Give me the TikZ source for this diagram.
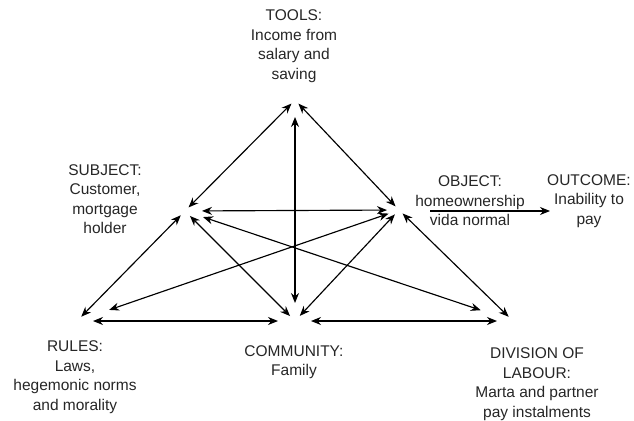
\documentclass[tikz,border=0pt]{standalone}
\usepackage{fontspec}
\setmainfont{Liberation Sans}
\usetikzlibrary{arrows.meta}
\begin{document}
\begin{tikzpicture}[x=1pt,y=-1pt,
  lbl/.style={align=center, font=\fontsize{15.5}{19.5}\selectfont, text=black!85, inner sep=0pt},
  link/.style={line width=1.15pt, {Stealth[length=10pt,width=8pt]}-{Stealth[length=10pt,width=8pt]}},
  single/.style={line width=1.15pt, -{Stealth[length=10pt,width=8pt]}}]
\useasboundingbox (0,0) rectangle (634,420);

% corners of the activity system
\coordinate (T) at (295,100);
\coordinate (S) at (185,211);
\coordinate (O) at (399,210);
\coordinate (R) at (77,321);
\coordinate (C) at (295,321);
\coordinate (D) at (513,321);
\coordinate (objout) at (430,211);
\coordinate (outin) at (550,211);

% labels
\node[lbl] (tools) at (294,46) {TOOLS:\\Income from\\salary and\\saving};
\node[lbl] (subject) at (105,199) {SUBJECT:\\Customer,\\mortgage\\holder};
\node[lbl] (object) at (470,201) {OBJECT:\\homeownership\\vida normal};
\node[lbl] (outcome) at (589,201) {OUTCOME:\\Inability to\\pay};
\node[lbl] (rules) at (75,377) {RULES:\\Laws,\\hegemonic norms\\and morality};
\node[lbl] (community) at (294,362) {COMMUNITY:\\Family};
\node[lbl] (division) at (537,384) {DIVISION OF\\LABOUR:\\Marta and partner\\pay instalments};

% triangle sides
\draw[link, shorten <=5pt, shorten >=5pt] (S) -- (T);
\draw[link, shorten <=5pt, shorten >=5pt] (O) -- (T);
\draw[link, shorten <=6pt, shorten >=6pt] (S) -- (R);
\draw[link, shorten <=7pt, shorten >=7pt] (S) -- (C);
\draw[link, shorten <=6pt, shorten >=7pt] (O) -- (C);
\draw[link, shorten <=5pt, shorten >=6pt] (O) -- (D);
\draw[link, shorten <=16pt, shorten >=17pt] (R) -- (C);
\draw[link, shorten <=16pt, shorten >=16pt] (C) -- (D);

% inner links
\draw[link, shorten <=18pt, shorten >=17pt] (C) -- (T);
\draw[link, shorten <=17pt, shorten >=12pt] (S) -- (O);
\draw[link, shorten <=19pt, shorten >=34pt] (S) -- (D);
\draw[link, shorten <=11pt, shorten >=34pt] (O) -- (R);

% object to outcome
\draw[single] (objout) -- (outin);
\end{tikzpicture}
\end{document}
